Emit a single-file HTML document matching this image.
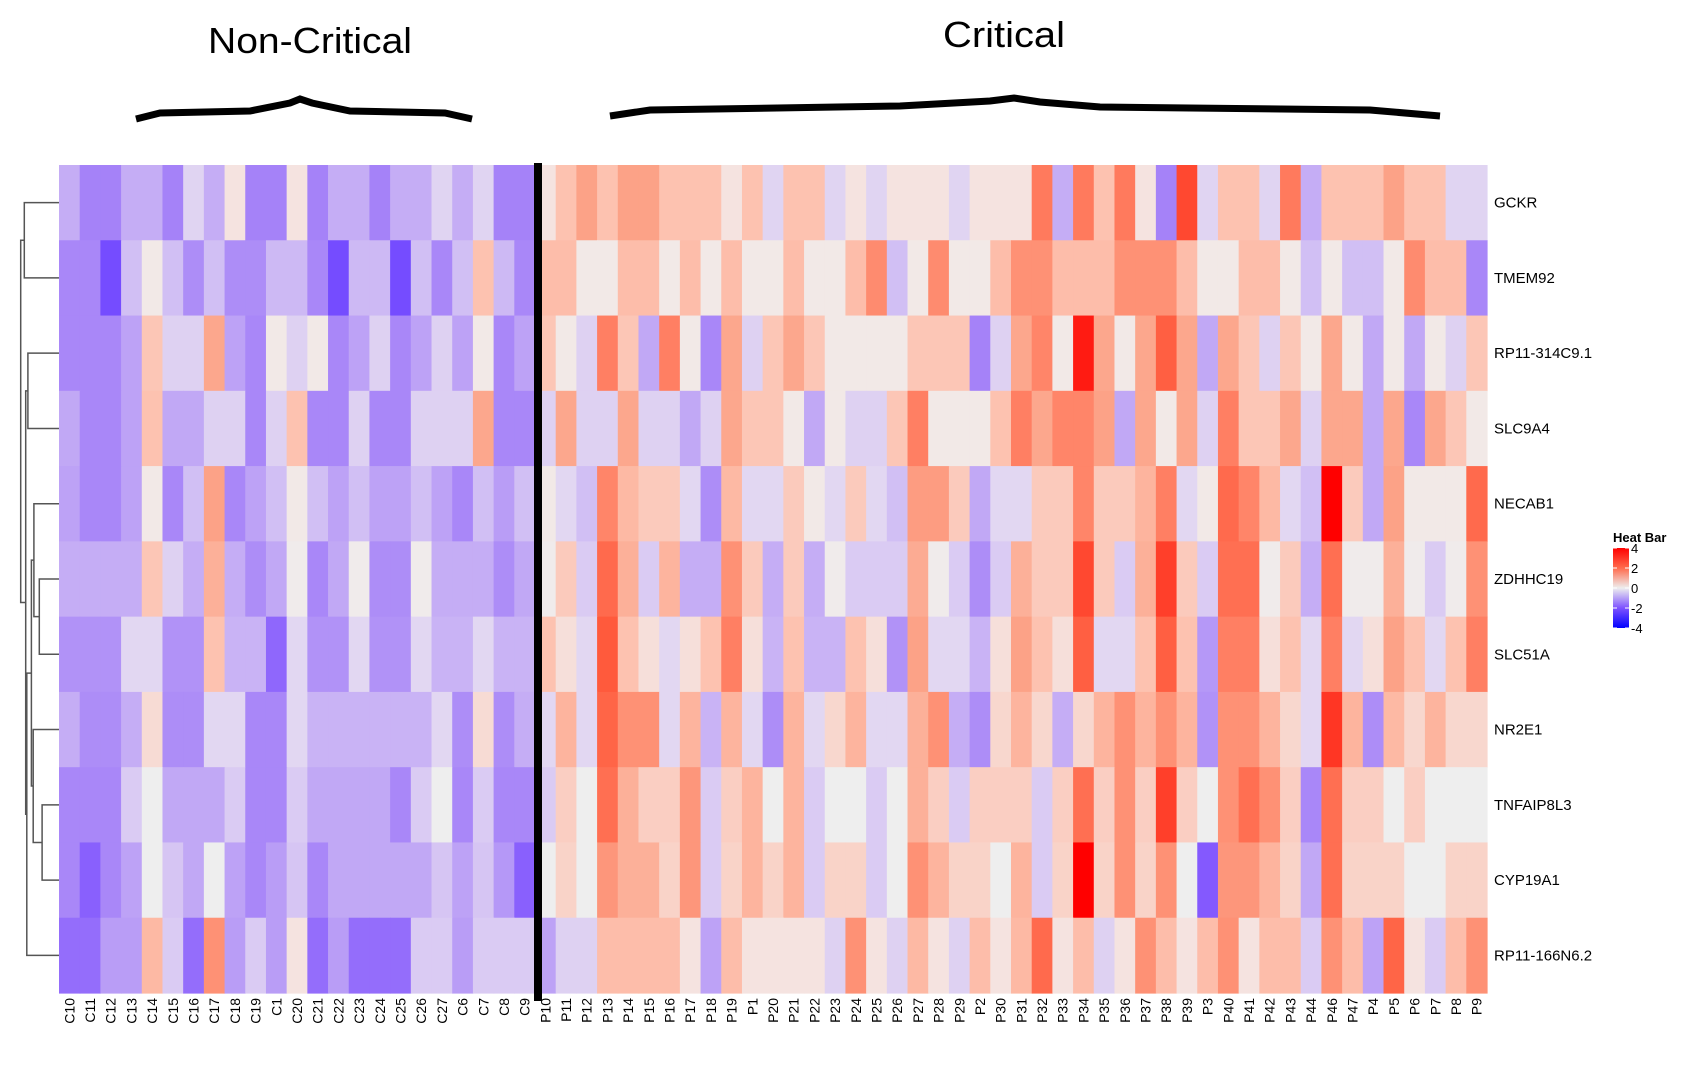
<!DOCTYPE html>
<html><head><meta charset="utf-8"><style>
html,body{margin:0;padding:0;background:#fff;}
svg{display:block;font-family:"Liberation Sans",Arial,sans-serif;}
</style></head><body>
<svg id="chart" width="1686" height="1068" viewBox="0 0 1686 1068">
<text x="310" y="53" font-size="36" text-anchor="middle" textLength="204" lengthAdjust="spacingAndGlyphs">Non-Critical</text>
<text x="1004" y="47" font-size="36" text-anchor="middle" textLength="122" lengthAdjust="spacingAndGlyphs">Critical</text>
<path d="M136,119 L160,113 L250,111 L290,103 L300,99 L312,103 L350,111 L445,113 L472,119" fill="none" stroke="#000" stroke-width="7"/>
<path d="M610,116 L650,110 L900,106 L990,101 L1014,98 L1040,102 L1100,107 L1370,110 L1440,116" fill="none" stroke="#000" stroke-width="7"/>
<g id="cells"></g>
<rect x="534" y="163" width="8" height="838" fill="#000"/>
<g id="dendro" stroke="#555" stroke-width="1.5" fill="none"></g>
<g id="rowlabels"></g>
<g id="collabels"></g>
<g>
<text x="1613" y="542" font-size="13" font-weight="bold">Heat Bar</text>
<defs><linearGradient id="lg" x1="0" y1="0" x2="0" y2="1">
<stop offset="0" stop-color="#ff0000"/><stop offset="0.25" stop-color="#ff6a4c"/><stop offset="0.5" stop-color="#eeeeee"/><stop offset="0.75" stop-color="#7e52ff"/><stop offset="1" stop-color="#0000ff"/></linearGradient></defs>
<rect x="1613" y="548" width="16" height="80" fill="url(#lg)"/>
<g id="legticks"></g>
</g>
</svg>
<script>
const genes=["GCKR","TMEM92","RP11-314C9.1","SLC9A4","NECAB1","ZDHHC19","SLC51A","NR2E1","TNFAIP8L3","CYP19A1","RP11-166N6.2"];
const samples=["C10","C11","C12","C13","C14","C15","C16","C17","C18","C19","C1","C20","C21","C22","C23","C24","C25","C26","C27","C6","C7","C8","C9",
"P10","P11","P12","P13","P14","P15","P16","P17","P18","P19","P1","P20","P21","P22","P23","P24",
"P25","P26","P27","P28","P29","P2","P30","P31","P32","P33","P34","P35","P36","P37","P38","P39",
"P3","P40","P41","P42","P43","P44","P46","P47","P4","P5","P6","P7","P8","P9"];
const rowGCKR=[-1.1,-1.9,-1.9,-1.1,-1.1,-1.9,-0.45,-1.1,0.2,-1.9,-1.9,0.2,-1.9,-1.1,-1.1,-1.9,-1.1,-1.1,-0.45,-1.1,-0.45,-1.9,-1.9,
0.2,1.0,1.7,1.0,1.7,1.7,1.0,1.0,1.0,0.2,1.0,-0.45,1.0,1.0,-0.45,0.2,
-0.45,0.2,0.2,0.2,-0.45,0.2,0.2,0.2,2.4,-1.1,2.4,1.0,2.4,0.2,-1.9,3.2,
-0.45,1.0,1.0,-0.45,2.4,-1.1,1.0,1.0,1.0,1.7,1.0,1.0,-0.45,-0.45];
const rowTMEM92=[-1.8,-1.8,-2.7,-0.8,0.1,-0.8,-1.7,-0.8,-1.7,-1.7,-0.9,-0.9,-1.8,-2.7,-0.9,-0.9,-2.7,-0.8,-1.8,-0.8,1.0,-0.9,-1.8,
1.1,1.1,0.1,0.1,1.1,1.1,0.1,1.1,0.1,1.1,0.1,0.1,1.1,0.1,0.1,1.1,
2.1,-0.8,0.1,2.1,0.1,0.1,1.1,2.0,2.0,1.1,1.1,1.1,2.0,2.0,2.0,1.1,
0.1,0.1,1.1,1.1,0.1,-0.8,0.1,-0.8,-0.8,0.1,2.1,1.1,1.1,-1.8];
const rowRP11_314=[-1.8,-1.8,-1.8,-1.3,0.9,-0.5,-0.5,1.6,-1.3,-1.8,0.1,-0.5,0.1,-1.8,-1.3,-0.5,-1.8,-1.3,-0.5,-1.3,0.1,-1.8,-1.3,
0.9,0.1,-0.5,2.3,0.9,-1.2,2.3,0.1,-1.8,1.6,-0.5,0.9,1.6,0.9,0.1,0.1,
0.1,0.1,0.9,0.9,0.9,-1.9,-0.5,1.6,2.2,0.1,3.7,1.6,0.1,1.6,2.9,1.6,
-1.2,1.6,0.9,-0.5,0.9,0.1,1.6,0.1,-1.2,0.1,-1.2,0.1,-0.5,0.9];
const rowSLC9A4=[-1.2,-1.8,-1.8,-1.3,1.0,-1.2,-1.2,-0.5,-0.5,-1.8,-0.5,1.0,-1.8,-1.8,-0.5,-1.8,-1.8,-0.5,-0.5,-0.5,1.6,-1.8,-1.8,
-0.5,1.6,-0.5,-0.5,1.6,-0.5,-0.5,-1.2,-0.5,1.6,0.9,0.9,0.1,-1.2,0.1,-0.5,
-0.5,0.9,2.3,0.1,0.1,0.1,1.0,2.3,1.6,2.2,2.2,1.7,-1.2,1.6,0.1,1.6,
-0.5,2.3,0.9,0.9,1.6,-0.5,1.6,1.6,-1.2,1.6,-1.8,1.6,0.9,0.1];
const rowNECAB1=[-1.3,-1.8,-1.8,-1.3,0.1,-1.8,-0.8,1.7,-1.8,-1.3,-0.8,0.1,-0.8,-1.3,-0.8,-1.3,-1.3,-0.8,-1.3,-1.8,-0.8,-1.4,-0.8,
0.1,-0.4,-0.8,2.2,1.2,0.8,0.8,-0.4,-1.7,1.2,-0.4,-0.4,0.8,0.1,-0.4,0.8,
-0.4,-0.8,1.8,1.8,0.8,-1.2,-0.4,-0.4,0.8,0.8,2.2,0.8,0.8,1.3,2.3,-0.4,
0.1,2.7,2.2,1.2,-0.4,-0.8,4.0,0.8,-1.2,1.7,0.1,0.1,0.1,2.7];
const rowZDHHC19=[-1.1,-1.1,-1.1,-1.1,0.9,-0.5,-1.1,1.4,-1.1,-1.7,-1.2,0.05,-1.8,-1.2,0.05,-1.7,-1.7,0.05,-1.1,-1.1,-1.1,-1.7,-1.2,
0.05,0.8,-0.6,2.7,1.4,-0.6,1.3,-1.1,-1.1,2.0,0.8,-1.1,0.8,-1.1,0.05,-0.6,
-0.6,-0.6,1.5,0.05,-0.6,-1.7,-0.6,1.4,0.8,0.8,3.2,0.8,-0.6,1.4,3.3,0.8,
-0.6,2.6,2.6,0.05,0.8,-1.1,2.6,0.05,0.05,1.4,0.05,-0.6,0.05,2.0];
const rowSLC51A=[-1.6,-1.6,-1.6,-0.4,-0.4,-1.6,-1.6,1.0,-1.0,-1.0,-2.3,-0.4,-1.6,-1.6,-0.4,-1.6,-1.6,-0.4,-1.0,-1.0,-0.4,-1.0,-1.0,
1.0,0.3,-0.4,3.0,1.0,0.3,-0.4,0.3,1.0,2.3,0.3,-1.0,1.0,-1.0,-1.0,1.0,
0.3,-1.6,1.7,-0.4,-0.4,-1.0,0.3,1.7,1.0,0.3,2.9,-0.4,-0.4,1.0,2.9,1.0,
-1.5,2.3,2.3,0.3,1.0,-0.4,2.3,-0.4,0.3,1.7,1.0,-0.4,1.0,2.3];
const rowNR2E1=[-1.1,-1.7,-1.7,-1.1,0.4,-1.7,-1.7,-0.4,-0.4,-1.8,-1.8,-0.4,-1.0,-1.0,-1.0,-1.0,-1.0,-1.0,-0.4,-1.7,0.4,-1.7,-1.1,
-0.4,1.3,-0.4,2.8,2.0,2.0,-0.4,1.3,-1.0,1.3,-0.4,-1.7,1.3,-0.4,0.5,1.3,
-0.4,-0.4,1.4,2.0,-1.1,-1.7,0.5,1.3,0.5,-1.1,0.5,1.3,2.0,1.3,2.0,1.3,
-1.6,2.0,2.0,1.3,0.5,-0.4,3.4,1.3,-1.7,1.2,0.5,1.3,0.5,0.5];
const rowTNFAIP8L3=[-1.8,-1.8,-1.8,-0.6,0.0,-1.2,-1.2,-1.2,-0.6,-1.8,-1.8,-0.6,-1.2,-1.2,-1.2,-1.2,-1.8,-0.6,0.0,-1.8,-0.6,-1.8,-1.8,
-0.6,0.7,0.0,2.6,1.4,0.7,0.7,1.9,-0.6,0.7,1.3,0.0,1.3,-0.6,0.0,0.0,
-0.6,0.0,1.4,0.7,-0.6,0.7,0.7,0.7,-0.6,0.7,2.6,0.7,2.0,0.7,3.3,0.7,
0.0,2.0,2.6,2.0,0.7,-1.8,2.6,0.7,0.7,0.0,0.7,0.0,0.0,0.0];
const rowCYP19A1=[-1.8,-2.4,-1.8,-1.3,0.0,-0.7,-1.2,0.0,-1.3,-1.8,-1.4,-0.7,-1.8,-1.2,-1.2,-1.2,-1.2,-1.2,-0.7,-1.3,-0.7,-1.5,-2.4,
0.0,0.6,0.0,1.9,1.4,1.4,0.6,1.9,-0.6,0.6,1.3,0.6,1.3,-0.6,0.6,0.6,
-0.6,0.0,2.0,1.3,0.6,0.6,0.0,1.3,-0.6,0.6,4.0,0.6,2.0,0.6,2.0,0.0,
-2.5,1.9,1.9,1.3,0.6,-1.2,2.6,0.6,0.6,0.6,0.0,0.0,0.6,0.6];
const rowRP11_166=[-2.2,-2.2,-1.4,-1.4,1.2,-0.6,-2.2,2.0,-1.4,-0.6,-1.4,0.2,-2.2,-1.4,-2.2,-2.2,-2.2,-0.6,-0.6,-1.4,-0.6,-0.6,-0.6,
-1.3,-0.5,-0.5,1.1,1.1,1.1,1.1,0.2,-1.3,1.1,0.2,0.2,0.2,0.2,-0.5,2.0,
0.2,-0.5,1.2,0.2,-0.5,1.1,0.2,1.2,2.7,0.2,1.1,-0.5,0.2,2.0,1.1,0.2,
1.1,2.0,0.2,1.1,1.1,-0.6,2.0,1.1,-1.3,2.8,0.2,-0.6,1.1,2.0];
const values=[rowGCKR,rowTMEM92,rowRP11_314,rowSLC9A4,rowNECAB1,rowZDHHC19,rowSLC51A,rowNR2E1,rowTNFAIP8L3,rowCYP19A1,rowRP11_166];
const legendTicks=[4,2,0,-2,-4];

const NS="http://www.w3.org/2000/svg";
const X0=59,X1=1487,Y0=165,Y1=993;
const cw=(X1-X0)/samples.length, rh=(Y1-Y0)/genes.length;
const xOf=i=>X0+i*cw, yOf=r=>Y0+r*rh;
const stops=[[-4,[0,0,255]],[-2.6,[126,82,255]],[-1.9,[165,130,248]],[-1.1,[197,173,245]],[-0.45,[224,212,242]],[0,[238,238,238]],[0.2,[245,227,224]],[1.0,[253,194,176]],[1.7,[252,162,135]],[2.3,[255,127,99]],[3.0,[255,90,60]],[4,[255,0,0]]];
function color(v){
  v=Math.max(-4,Math.min(4,v));
  for(let i=0;i<stops.length-1;i++){const a=stops[i],b=stops[i+1];
    if(v<=b[0]){const t=(v-a[0])/(b[0]-a[0]);const c=a[1].map((x,k)=>Math.round(x+(b[1][k]-x)*t));return `rgb(${c})`;}}
  return "rgb(255,0,0)";
}
function mk(tag,attrs,parent){const e=document.createElementNS(NS,tag);for(const k in attrs)e.setAttribute(k,attrs[k]);parent.appendChild(e);return e;}
const cells=document.getElementById('cells');
values.forEach((row,r)=>row.forEach((v,c)=>{
  const e=mk('rect',{x:xOf(c).toFixed(2),y:yOf(r).toFixed(2),width:(cw+0.6).toFixed(2),height:(rh+0.6).toFixed(2),fill:color(v)},cells);
  
  
}));
const rl=document.getElementById('rowlabels');
genes.forEach((g,r)=>{
  const t=mk('text',{x:1494,y:(yOf(r)+rh/2+5).toFixed(1),'font-size':15},rl);t.textContent=g;
  
  
});
const cl=document.getElementById('collabels');
samples.forEach((s,c)=>{
  const x=xOf(c)+cw/2+5,y=998;
  const t=mk('text',{x:x,y:y,'font-size':14,'text-anchor':'end',transform:`rotate(-90 ${x} ${y})`},cl);t.textContent=s;
  
  
});
// dendrogram: merges [left node, right node, height x]
const dg=document.getElementById('dendro');
const rc=r=>yOf(r)+rh/2;
const nodes={};for(let i=0;i<11;i++)nodes['L'+i]={y:rc(i),x:X0};
const merges=[["L0","L1",24.3,"A"],["L2","L3",27.9,"B"],["L5","L6",39.3,"C"],["L4","C",33.9,"D"],["L8","L9",42.1,"E"],["L7","E",33.2,"F"],["D","F",31.4,"G"],["G","L10",26.8,"H"],["B","H",25.7,"I"],["A","I",20.7,"R"]];
merges.forEach(([a,b,h,n])=>{
  const A=nodes[a],B=nodes[b];
  const p=mk('path',{d:`M${A.x},${A.y} H${h} V${B.y} H${B.x}`},dg);
  
  
  nodes[n]={x:h,y:(A.y+B.y)/2};
});
const lt=document.getElementById('legticks');
legendTicks.forEach(v=>{
  const y=548+(4-v)/8*80;
  const l=mk('line',{x1:1613,x2:1617,y1:y,y2:y,stroke:'#fff'},lt);
  
  
  const l2=mk('line',{x1:1625,x2:1629,y1:y,y2:y,stroke:'#fff'},lt);
  
  
  const t=mk('text',{x:1631,y:y+5,'font-size':13},lt);t.textContent=v;
  
  
});
</script>
</body></html>
